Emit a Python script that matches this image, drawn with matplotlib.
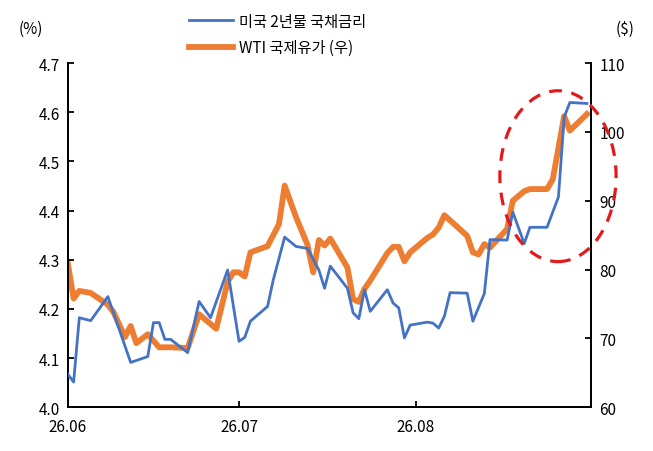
import matplotlib
matplotlib.use("Agg")
import matplotlib.pyplot as plt
import matplotlib.dates as mdates
from matplotlib.patches import Ellipse
import numpy as np
import pandas as pd

plt.rcParams["font.family"] = ["Noto Sans CJK KR", "DejaVu Sans"]

START = pd.Timestamp("2026-06-01")

# US 2y treasury yield (%), days counted from START
rate_days = [0, 1, 2, 4, 7, 11, 14, 15, 16, 17, 18, 21, 23, 25, 28, 30, 31, 32,
             35, 36, 38, 40, 42, 44, 45, 46, 49, 50, 51, 52, 53, 56, 57, 58, 59,
             60, 63, 64, 65, 66, 67, 70, 71, 73, 74, 77, 78, 80, 81, 84, 86, 87,
             88, 91]
rate_vals = [4.067, 4.051, 4.182, 4.176, 4.225, 4.091, 4.103, 4.172, 4.172, 4.138,
             4.138, 4.111, 4.215, 4.182, 4.279, 4.134, 4.142, 4.175, 4.205, 4.259,
             4.346, 4.327, 4.323, 4.279, 4.242, 4.287, 4.242, 4.192, 4.180, 4.239,
             4.195, 4.239, 4.212, 4.202, 4.141, 4.167, 4.173, 4.171, 4.161, 4.185,
             4.233, 4.232, 4.175, 4.231, 4.341, 4.340, 4.397, 4.333, 4.366, 4.366,
             4.428, 4.590, 4.620, 4.618]

# WTI ($), right axis
wti_days = [0, 1, 2, 4, 7, 8, 10, 11, 12, 14, 16, 18, 21, 23, 26, 28, 29, 30, 31,
            32, 35, 37, 38, 40, 42, 43, 44, 45, 46, 49, 50, 51, 52, 53, 56, 57, 58,
            59, 60, 63, 64, 65, 66, 70, 71, 72, 73, 74, 77, 78, 80, 81, 84, 85, 87,
            88, 91]
wti_vals = [80.8, 75.8, 76.9, 76.6, 74.9, 73.8, 70.2, 71.8, 69.3, 70.6,
            68.7, 68.7, 68.6, 73.5, 71.4, 78.2, 79.6, 79.6, 79.0, 82.5,
            83.4, 86.6, 92.2, 87.6, 83.6, 79.6, 84.3, 83.5, 84.5, 80.3,
            75.7, 75.3, 77.2, 78.4, 82.4, 83.3, 83.3, 81.2, 82.5, 84.6,
            85.1, 86.1, 87.9, 84.9, 82.5, 82.2, 83.7, 83.2, 85.9, 90.0,
            91.4, 91.7, 91.7, 93.1, 102.3, 100.2, 102.6]

rate_label = "미국 2년물 국채금리"
wti_label = "WTI 국제유가 (우)"

rate_x = START + pd.to_timedelta(rate_days, unit="D")
wti_x = START + pd.to_timedelta(wti_days, unit="D")

fig = plt.figure(figsize=(6.53, 4.52), dpi=100)
ax = fig.add_axes([0.104, 0.097, 0.801, 0.761])
ax2 = ax.twinx()

l1, = ax.plot(rate_x, rate_vals, color="#4472C4", lw=2.0, zorder=3)
l2, = ax2.plot(wti_x, wti_vals, color="#ED7D31", lw=4.2, zorder=2)
ax.set_zorder(ax2.get_zorder() + 1)
ax.patch.set_visible(False)

ax.set_xlim(START, START + pd.Timedelta(days=91.7))
ax.set_ylim(4.0, 4.7)
ax.set_yticks(np.arange(4.0, 4.71, 0.1))
ax.yaxis.set_major_formatter(matplotlib.ticker.FormatStrFormatter("%.1f"))
ax2.set_ylim(60, 110)
ax2.set_yticks(range(60, 111, 10))
ax.xaxis.set_major_locator(mdates.MonthLocator())
ax.xaxis.set_major_formatter(mdates.DateFormatter("%y.%m"))

for a in (ax, ax2):
    a.spines["top"].set_visible(False)
    for s in ("left", "right", "bottom"):
        a.spines[s].set_linewidth(1.3)
    a.tick_params(direction="in", length=4, width=1.3, labelsize=11,
                  colors="black", pad=6)
ax.tick_params(axis="x", pad=8)

fig.text(0.028, 0.935, "(%)", fontsize=11, ha="left", va="center")
fig.text(0.972, 0.935, "($)", fontsize=11, ha="right", va="center")

fig.legend([l1, l2], [rate_label, wti_label], loc="upper left",
           bbox_to_anchor=(0.275, 0.99), frameon=False, fontsize=11,
           handlelength=2.9, handletextpad=0.4, labelspacing=0.6,
           borderaxespad=0.2)

# dashed highlight around the late-August surge
ell = Ellipse((0.8545, 0.608), 0.178, 0.378, transform=fig.transFigure,
              fill=False, edgecolor="#E31A1C", lw=2.3, ls=(0, (4, 3)),
              zorder=10)
fig.patches.append(ell)

fig.savefig("out.png", dpi=100)
